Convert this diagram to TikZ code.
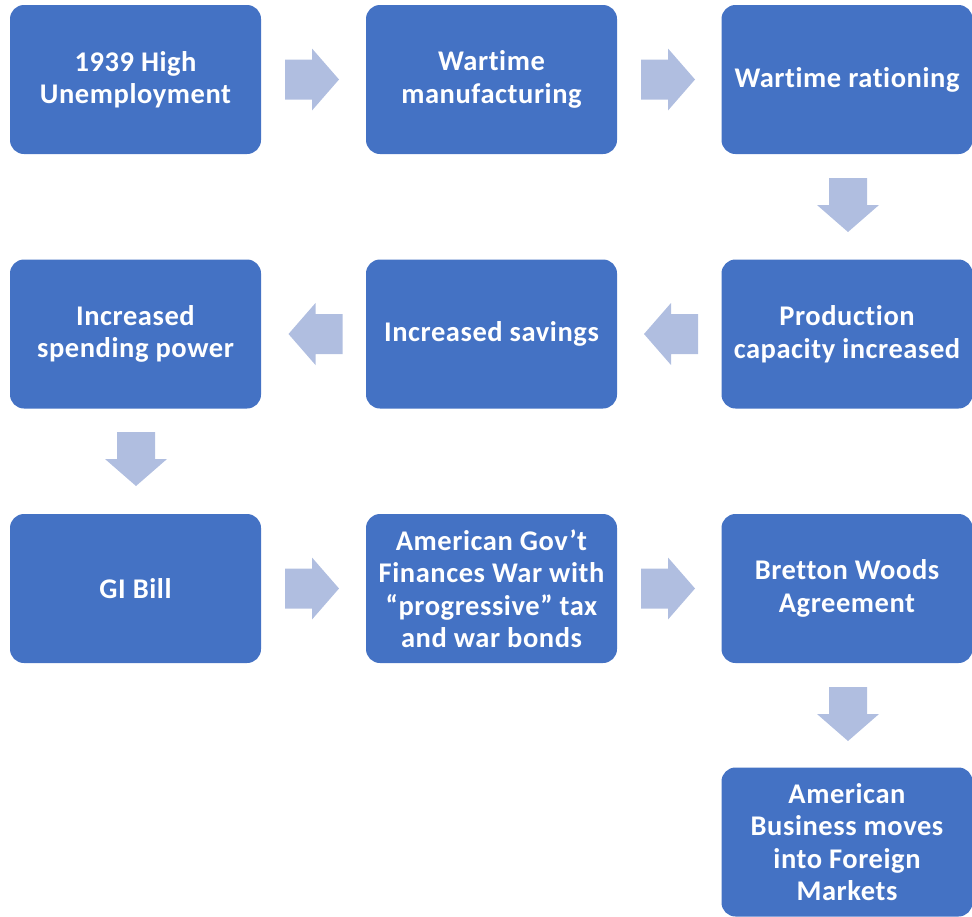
\documentclass[tikz,border=0pt]{standalone}
\usepackage{fontspec}
\setmainfont{Carlito}[LetterSpace=2,Ligatures={NoCommon}]
\definecolor{boxblue}{HTML}{4472C4}
\definecolor{arrowfill}{HTML}{B0BEE0}
\tikzset{
  stage/.style={rectangle, rounded corners=14pt, fill=boxblue, draw=none,
    minimum width=251pt, minimum height=149pt, text=white, align=center,
    font=\fontsize{28.5}{32.5}\selectfont\bfseries, inner sep=2pt},
  rarrow/.pic={\fill[arrowfill] (-27,-20) -- (0,-20) -- (0,-31) -- (27,0) -- (0,31) -- (0,20) -- (-27,20) -- cycle;},
  larrow/.pic={\fill[arrowfill] (27,-20) -- (0,-20) -- (0,-31) -- (-27,0) -- (0,31) -- (0,20) -- (27,20) -- cycle;},
  darrow/.pic={\fill[arrowfill] (-19,-27) -- (-19,0) -- (-31,0) -- (0,27) -- (31,0) -- (19,0) -- (19,-27) -- cycle;}
}
\begin{document}
\begin{tikzpicture}[x=1pt,y=-1pt]
\useasboundingbox (0,0) rectangle (972,916);
% row 1
\node[stage] (n1) at (135.5,79.5) {1939 High\\Unemployment};
\node[stage] (n2) at (491.5,79.5) {Wartime\\manufacturing};
\node[stage] (n3) at (847,79.5) {Wartime rationing};
% row 2
\node[stage] (n4) at (847,334) {Production\\capacity increased};
\node[stage] (n5) at (491.5,334) {Increased savings};
\node[stage] (n6) at (135.5,334) {Increased\\spending power};
% row 3
\node[stage] (n7) at (135.5,588.5) {GI Bill};
\node[stage] (n8) at (491.5,588.5) {American Gov’t\\Finances War with\\“progressive” tax\\and war bonds};
\node[stage] (n9) at (847,588.5) {Bretton Woods\\Agreement};
% row 4
\node[stage] (n10) at (847,842) {American\\Business moves\\into Foreign\\Markets};
% arrows
\pic at (312,79.5) {rarrow};
\pic at (668,79.5) {rarrow};
\pic at (848,205) {darrow};
\pic at (671,334) {larrow};
\pic at (315.5,334) {larrow};
\pic at (136,459) {darrow};
\pic at (312,588.5) {rarrow};
\pic at (668,588.5) {rarrow};
\pic at (848,714) {darrow};
\end{tikzpicture}
\end{document}
